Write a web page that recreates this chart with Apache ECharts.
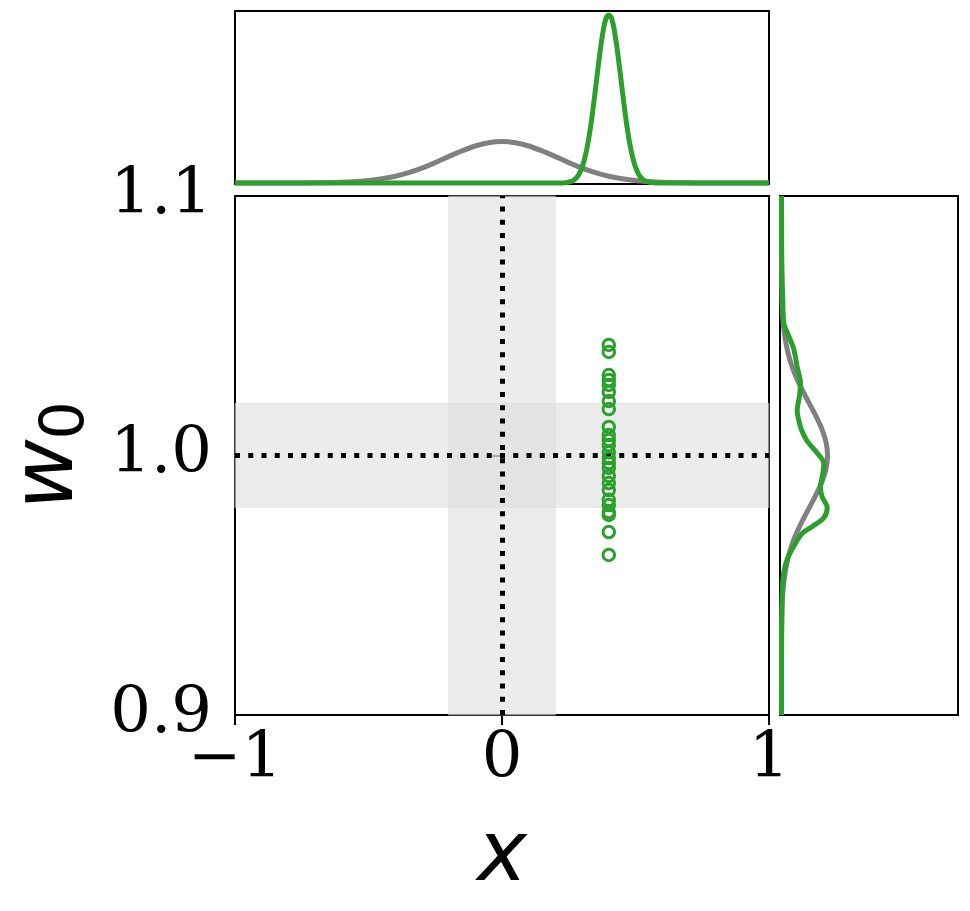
<!DOCTYPE html>
<html><head><meta charset="utf-8">
<script src="https://cdn.jsdelivr.net/npm/echarts/dist/echarts.min.js"></script>
<style>html,body{margin:0;padding:0;background:#fff}#c{width:970px;height:911px}</style>
</head><body><div id="c"></div>
<script>
// ---- data ----
const xTicks = [-1, 0, 1];
const xTickLabels = ['\u22121', '0', '1'];
const yTicks = [0.9, 1.0, 1.1];
const yTickLabels = ['0.9', '1.0', '1.1'];
const bandX = [-0.2, 0.2];
const bandY = [0.98, 1.02];
const refX = 0;
const refY = 1.0;
const ptsX = [0.4,0.4,0.4,0.4,0.4,0.4,0.4,0.4,0.4,0.4,0.4,0.4,0.4,0.4,0.4,0.4,0.4,0.4,0.4,0.4,0.4,0.4,0.4,0.4,0.4];
const ptsW = [1.0426,1.0399,1.0310,1.0291,1.0272,1.0245,1.0210,1.0179,1.0110,1.0079,1.0060,1.0040,1.0013,0.9990,0.9971,0.9952,0.9921,0.9894,0.9867,0.9829,0.9809,0.9782,0.9771,0.9705,0.9617];
// top marginal (density over x)
const topGrayX = [-1,-0.95,-0.9,-0.85,-0.8,-0.75,-0.7,-0.65,-0.6,-0.55,-0.5,-0.45,-0.4,-0.35,-0.3,-0.25,-0.2,-0.15,-0.1,-0.05,0,0.05,0.1,0.15,0.2,0.25,0.3,0.35,0.4,0.45,0.5,0.55,0.6,0.65,0.7,0.75,0.8,0.85,0.9,0.95,1];
const topGrayY = [0,0,0,0,0,0.05,0.15,0.3,0.7,1.4,2.4,4.2,6.7,10.3,14.9,20.4,26.4,32.1,37.0,40.3,41.5,40.3,37.0,32.1,26.4,20.4,14.9,10.3,6.7,4.2,2.4,1.4,0.7,0.3,0.15,0.05,0,0,0,0,0];
const topGreenX = [-1,0.2,0.22,0.24,0.26,0.27,0.28,0.29,0.3,0.31,0.32,0.33,0.34,0.35,0.36,0.37,0.38,0.39,0.4,0.41,0.42,0.43,0.44,0.45,0.46,0.47,0.48,0.49,0.5,0.51,0.52,0.53,0.54,0.56,0.58,0.6,1];
const topGreenY = [0,0,0.07,0.4,1.6,3.1,5.6,9.7,15.9,24.9,37.2,53.1,72.2,93.6,115.8,136.6,153.8,165,168,165,153.8,136.6,115.8,93.6,72.2,53.1,37.2,24.9,15.9,9.7,5.6,3.1,1.6,0.4,0.07,0,0];
// right marginal (density over w0)
const rightGrayW = [0.9,0.905,0.91,0.915,0.92,0.925,0.93,0.935,0.94,0.945,0.95,0.955,0.96,0.965,0.97,0.975,0.98,0.985,0.99,0.995,1.0,1.005,1.01,1.015,1.02,1.025,1.03,1.035,1.04,1.045,1.05,1.055,1.06,1.065,1.07,1.075,1.08,1.085,1.09,1.095,1.1];
const rightGrayD = [0,0,0,0,0,0.05,0.1,0.25,0.5,1.0,2.0,3.7,6.2,9.9,14.9,21.1,27.9,34.7,40.6,44.6,46,44.6,40.6,34.7,27.9,21.1,14.9,9.9,6.2,3.7,2.0,1.0,0.5,0.25,0.1,0.05,0,0,0,0,0];
const rightGreenW = [1.1,1.08,1.07,1.06,1.051,1.046,1.041,1.034,1.028,1.023,1.0175,1.011,1.0066,1.0047,1.0002,0.997,0.993,0.988,0.984,0.980,0.976,0.9726,0.970,0.965,0.960,0.955,0.95,0.94,0.92,0.9];
const rightGreenD = [0,0.2,0.5,1.3,2.3,7.3,12.3,15.7,19,18,15.7,19,24,27.3,37.3,42.3,41.3,39,40.7,45.7,42.3,30.7,20.7,12.3,5.7,2.3,1.0,0.3,0,0];

// ---- styles ----
const GREEN = '#2ca02c', GRAY = '#808080';
const SERIF = 'DejaVu Serif', SANS = 'DejaVu Sans';
const BAND = 'rgba(219,219,219,0.53)';
const LW = 5;
const zip = (a, b) => a.map((v, i) => [v, b[i]]);
const hidden = {show:false};
const hiddenAxis = (gi, min, max) => ({gridIndex: gi, type:'value', min, max, axisLine:hidden, axisTick:hidden, axisLabel:hidden, splitLine:hidden});
const gridBase = {show:true, borderColor:'#000', borderWidth:2, backgroundColor:'transparent', outerBoundsMode:'none', containLabel:false};
const pick = (ticks, labels) => v => { const i = ticks.findIndex(t => Math.abs(t - v) < 1e-6); return i >= 0 ? labels[i] : ''; };

const chart = echarts.init(document.getElementById('c'), null, {renderer:'canvas'});
chart.setOption({
  animation: false,
  backgroundColor: '#fff',
  grid: [
    Object.assign({left:235, top:196, width:534, height:519}, gridBase),
    Object.assign({left:235, top:11, width:534, height:173}, gridBase),
    Object.assign({left:780, top:196, width:178, height:519}, gridBase)
  ],
  xAxis: [
    {gridIndex:0, type:'value', min:xTicks[0], max:xTicks[xTicks.length-1], interval:1,
     axisLine:{show:false}, splitLine:hidden,
     axisTick:{show:true, length:10, lineStyle:{color:'#000', width:2}},
     axisLabel:{show:true, margin:13, color:'#000', fontSize:64, fontFamily:SERIF, formatter: pick(xTicks, xTickLabels)},
     name:'x', nameLocation:'middle', nameGap:101,
     nameTextStyle:{color:'#000', fontSize:84, fontFamily:SANS, fontStyle:'italic'}},
    hiddenAxis(1, -1, 1),
    hiddenAxis(2, -1.5, 176.5)
  ],
  yAxis: [
    {gridIndex:0, type:'value', min:yTicks[0], max:yTicks[yTicks.length-1], interval:0.1,
     axisLine:{show:false}, splitLine:hidden,
     axisTick:{show:true, length:10, lineStyle:{color:'#000', width:2}},
     axisLabel:{show:true, margin:23, color:'#000', fontSize:64, fontFamily:SERIF, formatter: pick(yTicks, yTickLabels)},
     name:'{a|w}{b|0}', nameLocation:'middle', nameGap:138, nameRotate:90,
     nameTextStyle:{color:'#000', rich:{
       a:{fontSize:86, fontFamily:SANS, fontStyle:'italic', color:'#000'},
       b:{fontSize:60, fontFamily:SANS, color:'#000', padding:[34,0,0,0]}
     }}},
    hiddenAxis(1, -1, 172),
    hiddenAxis(2, 0.9, 1.1)
  ],
  series: [
    {type:'scatter', xAxisIndex:0, yAxisIndex:0, data: zip(ptsX, ptsW), symbol:'circle', symbolSize:11.5, z:5,
     itemStyle:{color:'rgba(0,0,0,0)', borderColor:GREEN, borderWidth:3, opacity:1},
     markArea:{silent:true, itemStyle:{color:BAND, borderColor:BAND, borderWidth:1},
       data:[[{xAxis:bandX[0]},{xAxis:bandX[1]}],[{yAxis:bandY[0]},{yAxis:bandY[1]}]]},
     markLine:{silent:true, symbol:['none','none'], label:{show:false},
       lineStyle:{color:'#000', width:5, type:[5,8.25], cap:'butt'},
       data:[{xAxis:refX},{yAxis:refY}]}
    },
    {type:'line', xAxisIndex:1, yAxisIndex:1, data: zip(topGrayX, topGrayY), showSymbol:false, smooth:0.3,
     lineStyle:{color:GRAY, width:LW}, z:2},
    {type:'line', xAxisIndex:1, yAxisIndex:1, data: zip(topGreenX, topGreenY), showSymbol:false, smooth:0.3,
     lineStyle:{color:GREEN, width:LW}, z:3},
    {type:'line', xAxisIndex:2, yAxisIndex:2, data: zip(rightGrayD, rightGrayW), showSymbol:false, smooth:0.3,
     lineStyle:{color:GRAY, width:LW}, z:2},
    {type:'line', xAxisIndex:2, yAxisIndex:2, data: zip(rightGreenD, rightGreenW), showSymbol:false, smooth:0.3,
     lineStyle:{color:GREEN, width:LW}, z:3}
  ]
});
</script></body></html>
